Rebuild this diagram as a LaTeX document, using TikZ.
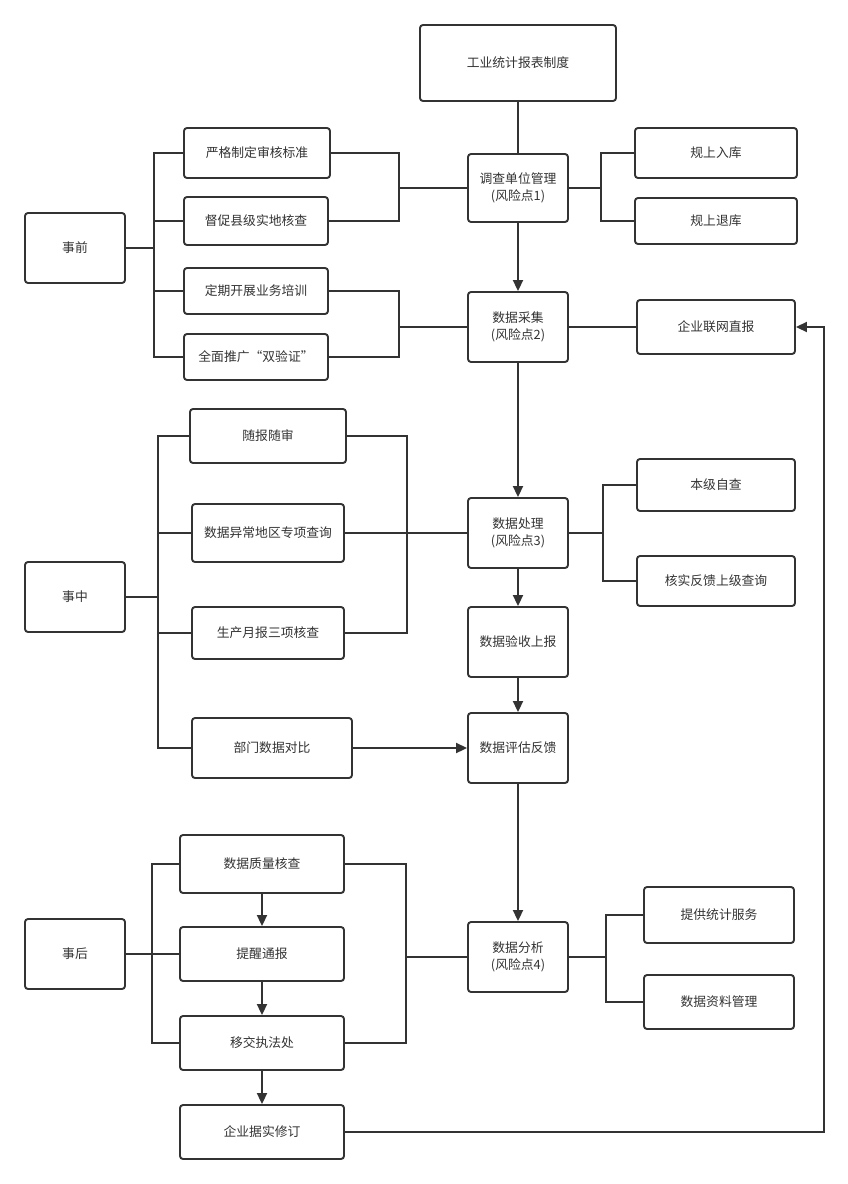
\documentclass[tikz,border=0pt]{standalone}
\usepackage{fontspec}
\newfontfamily\cjk{Noto Sans CJK SC}
\usetikzlibrary{arrows.meta}
\definecolor{ln}{HTML}{333333}
\definecolor{tx}{HTML}{333333}
\tikzset{
  box/.style={draw=ln, line width=1.9pt, rounded corners=3pt, fill=white, align=center,
    text=tx, font=\cjk\fontsize{12.8}{17}\selectfont, inner sep=0pt},
  conn/.style={draw=ln, line width=1.9pt},
  arr/.style={conn, -{Triangle[length=11pt,width=10pt]}}
}
\begin{document}
\begin{tikzpicture}[x=1pt,y=-1pt]
\useasboundingbox[fill=white] (0,0) rectangle (848,1184);

% central column
\node[box, minimum width=196pt, minimum height=76pt] (top) at (518,63) {工业统计报表制度};
\node[box, minimum width=100pt, minimum height=68pt] (tiao) at (518,188) {调查单位管理\\(风险点1)};
\node[box, minimum width=100pt, minimum height=70pt] (caiji) at (518,327) {数据采集\\(风险点2)};
\node[box, minimum width=100pt, minimum height=70pt] (chuli) at (518,533) {数据处理\\(风险点3)};
\node[box, minimum width=100pt, minimum height=70pt] (yanshou) at (518,642) {数据验收上报};
\node[box, minimum width=100pt, minimum height=70pt] (pinggu) at (518,748) {数据评估反馈};
\node[box, minimum width=100pt, minimum height=70pt] (fenxi) at (518,957) {数据分析\\(风险点4)};

% stage boxes
\node[box, minimum width=100pt, minimum height=70pt] (shiqian) at (75,248) {事前};
\node[box, minimum width=100pt, minimum height=70pt] (shizhong) at (75,597) {事中};
\node[box, minimum width=100pt, minimum height=70pt] (shihou) at (75,954) {事后};

% 事前 group
\node[box, minimum width=146pt, minimum height=50pt] (yange) at (257,153) {严格制定审核标准};
\node[box, minimum width=144pt, minimum height=48pt] (duchu) at (256,221) {督促县级实地核查};
\node[box, minimum width=144pt, minimum height=46pt] (dingqi) at (256,291) {定期开展业务培训};
\node[box, minimum width=144pt, minimum height=46pt] (quanmian) at (256,357) {全面推广“双验证”};

% right of 1,2
\node[box, minimum width=162pt, minimum height=50pt] (ruku) at (716,153) {规上入库};
\node[box, minimum width=162pt, minimum height=46pt] (tuiku) at (716,221) {规上退库};
\node[box, minimum width=158pt, minimum height=54pt] (lianwang) at (716,327) {企业联网直报};

% 事中 group
\node[box, minimum width=156pt, minimum height=54pt] (suibao) at (268,436) {随报随审};
\node[box, minimum width=152pt, minimum height=58pt] (yichang) at (268,533) {数据异常地区专项查询};
\node[box, minimum width=152pt, minimum height=52pt] (yuebao) at (268,633) {生产月报三项核查};
\node[box, minimum width=160pt, minimum height=60pt] (bumen) at (272,748) {部门数据对比};

% right of 3
\node[box, minimum width=158pt, minimum height=52pt] (benji) at (716,485) {本级自查};
\node[box, minimum width=158pt, minimum height=50pt] (heshi) at (716,581) {核实反馈上级查询};

% 事后 group
\node[box, minimum width=164pt, minimum height=58pt] (zhiliang) at (262,864) {数据质量核查};
\node[box, minimum width=164pt, minimum height=54pt] (tixing) at (262,954) {提醒通报};
\node[box, minimum width=164pt, minimum height=54pt] (yijiao) at (262,1043) {移交执法处};
\node[box, minimum width=164pt, minimum height=54pt] (xiuding) at (262,1132) {企业据实修订};

% right of 4
\node[box, minimum width=150pt, minimum height=56pt] (tigong) at (719,915) {提供统计服务};
\node[box, minimum width=150pt, minimum height=54pt] (ziliao) at (719,1002) {数据资料管理};

% bus coordinates
\coordinate (b1) at (154,248);
\coordinate (b2) at (399,188);
\coordinate (b3) at (399,327);
\coordinate (b4) at (601,188);
\coordinate (b5) at (158,597);
\coordinate (b6) at (407,533);
\coordinate (b7) at (603,533);
\coordinate (b8) at (152,954);
\coordinate (b9) at (406,957);
\coordinate (b10) at (606,957);
\coordinate (c1) at (824,1132);
\coordinate (c2) at (824,327);

% central flow
\draw[conn] (top.south) -- (tiao.north);
\draw[arr] (tiao.south) -- (caiji.north);
\draw[arr] (caiji.south) -- (chuli.north);
\draw[arr] (chuli.south) -- (yanshou.north);
\draw[arr] (yanshou.south) -- (pinggu.north);
\draw[arr] (pinggu.south) -- (fenxi.north);

% 事前
\draw[conn] (shiqian.east) -- (b1);
\draw[conn] (yange.west) -| (b1);
\draw[conn] (duchu.west) -| (b1);
\draw[conn] (dingqi.west) -| (b1);
\draw[conn] (quanmian.west) -| (b1);
\draw[conn] (yange.east) -| (b2);
\draw[conn] (duchu.east) -| (b2);
\draw[conn] (b2) -- (tiao.west);
\draw[conn] (dingqi.east) -| (b3);
\draw[conn] (quanmian.east) -| (b3);
\draw[conn] (b3) -- (caiji.west);
\draw[conn] (tiao.east) -- (b4);
\draw[conn] (ruku.west) -| (b4);
\draw[conn] (tuiku.west) -| (b4);
\draw[conn] (caiji.east) -- (lianwang.west);

% 事中
\draw[conn] (shizhong.east) -- (b5);
\draw[conn] (suibao.west) -| (b5);
\draw[conn] (yichang.west) -| (b5);
\draw[conn] (yuebao.west) -| (b5);
\draw[conn] (bumen.west) -| (b5);
\draw[conn] (suibao.east) -| (b6);
\draw[conn] (yuebao.east) -| (b6);
\draw[conn] (yichang.east) -- (chuli.west);
\draw[arr] (bumen.east) -- (pinggu.west);
\draw[conn] (chuli.east) -- (b7);
\draw[conn] (benji.west) -| (b7);
\draw[conn] (heshi.west) -| (b7);

% 事后
\draw[conn] (shihou.east) -- (tixing.west);
\draw[conn] (zhiliang.west) -| (b8);
\draw[conn] (yijiao.west) -| (b8);
\draw[conn] (zhiliang.east) -| (b9);
\draw[conn] (yijiao.east) -| (b9);
\draw[conn] (b9) -- (fenxi.west);
\draw[arr] (zhiliang.south) -- (tixing.north);
\draw[arr] (tixing.south) -- (yijiao.north);
\draw[arr] (yijiao.south) -- (xiuding.north);
\draw[conn] (fenxi.east) -- (b10);
\draw[conn] (tigong.west) -| (b10);
\draw[conn] (ziliao.west) -| (b10);

% feedback loop
\draw[arr] (xiuding.east) -- (c1) -- (c2) -- (lianwang.east);
\end{tikzpicture}
\end{document}
